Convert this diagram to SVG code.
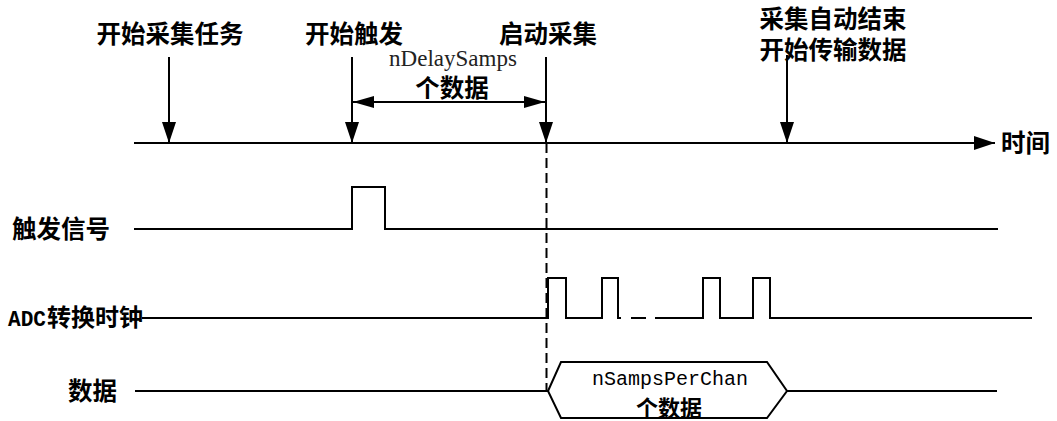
<svg xmlns="http://www.w3.org/2000/svg" width="1057" height="421" viewBox="0 0 1057 421">
<style>
.ln{stroke:#000;stroke-width:2;fill:none}
.cj{font-family:"Noto Sans CJK SC","Noto Sans",sans-serif;font-size:24.5px;font-weight:700;fill:#000}
.sf{font-family:"Liberation Serif",serif;font-size:23px;fill:#222}
.mo{font-family:"Liberation Mono",monospace;font-size:20px;fill:#000}
</style>
<defs>
<marker id="ah" viewBox="0 0 21 14" refX="21" refY="7" markerWidth="21" markerHeight="14" markerUnits="userSpaceOnUse" orient="auto">
<path d="M0,0 L21,7 L0,14 Z" fill="#000"/>
</marker>
<marker id="ahs" viewBox="0 0 21 12" refX="21" refY="6" markerWidth="21" markerHeight="12" markerUnits="userSpaceOnUse" orient="auto-start-reverse">
<path d="M0,0 L21,6 L0,12 Z" fill="#000"/>
</marker>
</defs>
<rect width="1057" height="421" fill="#fff"/>
<g id="labels">
<text class="cj" x="170" y="43" text-anchor="middle">开始采集任务</text>
<text class="cj" x="354" y="43" text-anchor="middle">开始触发</text>
<text class="cj" x="548" y="43" text-anchor="middle">启动采集</text>
<text class="cj" x="833" y="28" text-anchor="middle">采集自动结束</text>
<text class="cj" x="833" y="59" text-anchor="middle">开始传输数据</text>
<text class="sf" x="453" y="66" text-anchor="middle">nDelaySamps</text>
<text class="cj" x="452" y="97" text-anchor="middle">个数据</text>
<text class="cj" x="1001" y="152">时间</text>
</g>
<g id="connectors">
<line class="ln" x1="134" y1="143" x2="995" y2="143" marker-end="url(#ah)"/>
<line class="ln" x1="169" y1="57" x2="169" y2="143" marker-end="url(#ah)"/>
<line class="ln" x1="352" y1="57" x2="352" y2="143" marker-end="url(#ah)"/>
<line class="ln" x1="546" y1="57" x2="546" y2="143" marker-end="url(#ah)"/>
<line class="ln" x1="787" y1="55" x2="787" y2="143" marker-end="url(#ah)"/>
<line class="ln" x1="353" y1="102" x2="545" y2="102" marker-start="url(#ahs)" marker-end="url(#ahs)"/>
<line class="ln" x1="546.5" y1="143" x2="546.5" y2="392" stroke-dasharray="10,5"/>
</g>
<g id="trigger">
<text class="cj" x="12" y="238">触发信号</text>
<polyline class="ln" points="134,229 352,229 352,187 385,187 385,229 998,229"/>
</g>
<g id="adc">
<text x="8" y="326" style="font-family:'Liberation Mono',monospace;font-size:22px;font-weight:700" textLength="38" lengthAdjust="spacingAndGlyphs">ADC</text>
<text class="cj" x="47" y="326" style="font-size:24px">转换时钟</text>
<polyline class="ln" points="142,318 548,318 548,278 566,278 566,318 602,318 602,278 618,278 618,318 621,318"/>
<line class="ln" x1="631" y1="318" x2="646" y2="318"/>
<polyline class="ln" points="655,318 703,318 703,278 720,278 720,318 753,318 753,278 770,278 770,318 1032,318"/>
</g>
<g id="data">
<text class="cj" x="68" y="400">数据</text>
<polyline class="ln" points="135,391 548,391"/>
<polygon class="ln" points="548,391 561,362 767,362 787,391 767,418 561,418"/>
<line class="ln" x1="787" y1="391" x2="997" y2="391"/>
<text class="mo" x="670" y="385" text-anchor="middle">nSampsPerChan</text>
<text class="cj" x="669" y="416" text-anchor="middle" style="font-size:22px">个数据</text>
</g>
</svg>
